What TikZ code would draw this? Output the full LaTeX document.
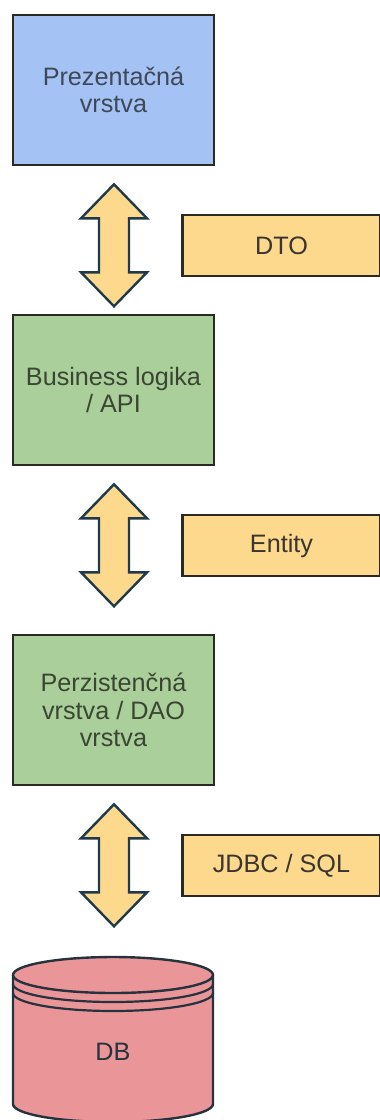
\documentclass[tikz,border=0pt]{standalone}
\usepackage{fontspec}
\setmainfont{Liberation Sans}
\usetikzlibrary{calc}

\definecolor{presfill}{HTML}{A4C2F4}
\definecolor{bizfill}{HTML}{AACF9B}
\definecolor{tagfill}{HTML}{FCD98C}
\definecolor{dbfill}{HTML}{EA9698}
\definecolor{boxline}{HTML}{2A2A22}
\definecolor{arrowline}{HTML}{1F3A4A}
\definecolor{dbline}{HTML}{26323E}
\definecolor{bluetext}{HTML}{3E4858}
\definecolor{greentext}{HTML}{3A4632}
\definecolor{tagtext}{HTML}{3A3530}

\tikzset{
  layerbox/.style={draw=boxline, line width=1.3pt, minimum width=100.5pt,
    minimum height=75pt, align=center, inner sep=2pt,
    font=\fontsize{12.6}{13.6}\selectfont},
  tagbox/.style={draw=boxline, fill=tagfill, line width=1.3pt,
    minimum width=99pt, minimum height=30.5pt, text=tagtext,
    font=\fontsize{12.6}{13.6}\selectfont},
  fatarrow/.style={draw=arrowline, fill=tagfill, line width=1.2pt,
    line join=miter},
  dbshape/.style={draw=dbline, fill=dbfill, line width=1.2pt}
}

% double-headed block arrow hanging down from a tip coordinate
\newcommand{\blockarrow}[2]{%
  \draw[fatarrow] (#1) -- ++(33,34) -- ++(-18,0) -- ++(0,#2-68)
    -- ++(18,0) -- ++(-33,34) -- ++(-33,-34) -- ++(18,0)
    -- ++(0,68-#2) -- ++(-18,0) -- cycle;}

\begin{document}
\begin{tikzpicture}[x=0.5pt, y=-0.5pt]
  \useasboundingbox (0,0) rectangle (380,1120);
  \fill[white] (0,0) rectangle (380,1120);

  % layers
  \node[layerbox, fill=presfill, text=bluetext] (pres) at (113.5,90)
    {Prezentačná\\vrstva};
  \node[layerbox, fill=bizfill, text=greentext] (biz) at (113.5,390)
    {Business logika\\/ API};
  \node[layerbox, fill=bizfill, text=greentext] (dao) at (113.5,710)
    {Perzistenčná\\vrstva / DAO\\vrstva};

  % database cylinder
  \fill[dbfill] (13,975) -- (13,1104)
    arc[start angle=180, end angle=0, x radius=100, y radius=18]
    -- (213,975) -- cycle;
  \draw[dbline, line width=1.2pt] (13,975) -- (13,1104)
    arc[start angle=180, end angle=0, x radius=100, y radius=18]
    -- (213,975);
  \draw[dbshape] (113,975) ellipse[x radius=100, y radius=18];
  \draw[dbline, line width=1.1pt] (13,984)
    arc[start angle=180, end angle=0, x radius=100, y radius=18];
  \draw[dbline, line width=1.1pt] (13,993)
    arc[start angle=180, end angle=0, x radius=100, y radius=18];
  \node[text=dbline, font=\fontsize{12.6}{13.6}\selectfont] (db) at (113,1052) {DB};

  % transfer objects between layers
  \node[tagbox] (dto) at (281.5,245.5) {DTO};
  \node[tagbox] (entity) at (281.5,545.5) {Entity};
  \node[tagbox] (jdbc) at (281.5,865.5) {JDBC / SQL};

  % block arrows between layers
  \path (pres.south) ++(0.5,18) coordinate (a1);
  \blockarrow{a1}{122}
  \path (biz.south) ++(0.5,18) coordinate (a2);
  \blockarrow{a2}{122}
  \path (dao.south) ++(0.5,18) coordinate (a3);
  \blockarrow{a3}{122}
\end{tikzpicture}
\end{document}
